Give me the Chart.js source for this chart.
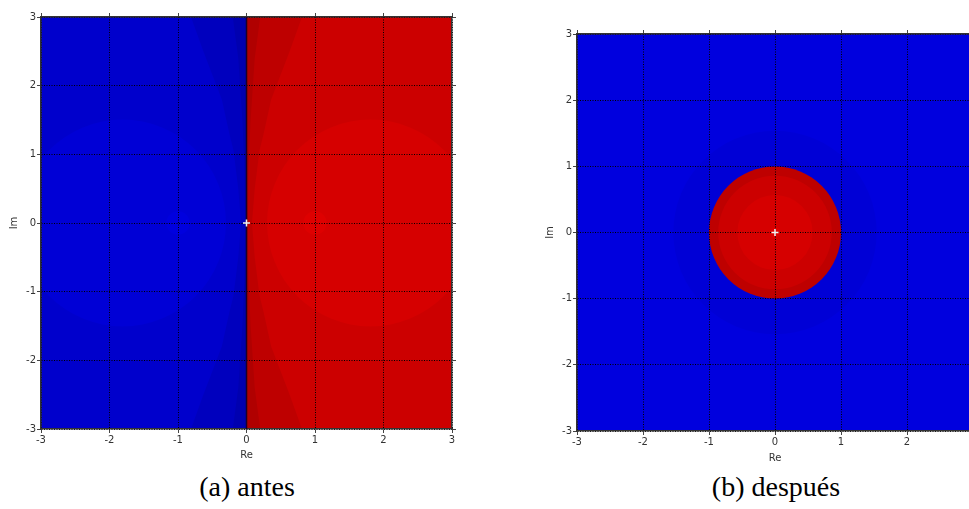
<!DOCTYPE html>
<html>
<head>
<meta charset="utf-8">
<script src="https://cdn.jsdelivr.net/npm/chart.js@4.4.0/dist/chart.umd.min.js"></script>
<style>
  html, body { margin: 0; padding: 0; background: #fff; }
  body { width: 969px; height: 509px; position: relative; overflow: hidden; }
  canvas { position: absolute; top: 0; }
  #antes { left: 0; }
  #despues { left: 540px; }
  .caption {
    position: absolute; top: 473px; width: 300px; text-align: center;
    font-family: "Liberation Serif", "DejaVu Serif", serif; font-size: 28px; line-height: 28px; color: #000;
  }
</style>
</head>
<body>
<canvas id="antes" width="480" height="465"></canvas>
<canvas id="despues" width="470" height="468"></canvas>
<div class="caption" style="left:97px">(a) antes</div>
<div class="caption" style="left:626px">(b) después</div>
<script>
// tick values on both axes (Re and Im)
const tickValues = [-3, -2, -1, 0, 1, 2, 3];

// (a) antes: levels of the two half planes (Re<0, Re>0)
const antesHalfLevels = [-3, 3];
// contour band next to the imaginary axis (upper half, mirrored below)
const antesBandY = [3, 2.5, 1.8, 1.3, 1.06, 0.5, 0];
const antesBandX = [0.81, 0.63, 0.36, 0.25, 0.19, 0.12, 0.08];
// darkest strip right at the axis
const antesStripY = [3, 2.4, 1.5, 0.8, 0];
const antesStripX = [0.2, 0.12, 0.06, 0.03, 0.02];
// round contours
const antesDiskCx = [-1.81, 1.81, -1, 1];
const antesDiskCy = [0, 0, 0, 0];
const antesDiskR = [1.51, 1.51, 0.17, 0.17];
const antesDiskLvl = [-4, 4, -5, 5];

// (b) después: background level and concentric contours round the origin
const despuesBaseLvl = -5;
const despuesDiskR = [1.54, 1.0, 0.86, 0.57, 0.08];
const despuesDiskLvl = [-4, 2, 3, 4, 5];

// marker at the origin
const markX = [0];
const markY = [0];

// colour for a contour level: negative -> blue, positive -> red
const shade = [0, 176, 190, 204, 214, 222, 230];
function levelColor(level) {
    const v = shade[Math.abs(level)];
    return level < 0 ? 'rgb(0,0,' + v + ')' : 'rgb(' + v + ',0,0)';
}

function bandPolygon(xs, ys, sign) {
    const pts = [{x: 0, y: ys[0]}];
    xs.forEach((x, i) => pts.push({x: sign * x, y: ys[i]}));
    for (let i = xs.length - 2; i >= 0; i--) pts.push({x: sign * xs[i], y: -ys[i]});
    pts.push({x: 0, y: -ys[0]});
    return pts;
}

// region list for (a)
const antesRegions = [
    {type: 'rect', x0: -3, x1: 0, y0: -3, y1: 3, level: antesHalfLevels[0]},
    {type: 'rect', x0: 0, x1: 3, y0: -3, y1: 3, level: antesHalfLevels[1]}
];
antesDiskCx.forEach((cx, i) => antesRegions.push({type: 'disk', cx: cx, cy: antesDiskCy[i], r: antesDiskR[i], level: antesDiskLvl[i]}));
antesRegions.push({type: 'poly', pts: bandPolygon(antesBandX, antesBandY, 1), level: 2});
antesRegions.push({type: 'poly', pts: bandPolygon(antesBandX, antesBandY, -1), level: -2});
antesRegions.push({type: 'poly', pts: bandPolygon(antesStripX, antesStripY, 1), level: 1});
antesRegions.push({type: 'poly', pts: bandPolygon(antesStripX, antesStripY, -1), level: -1});

// region list for (b)
const despuesRegions = [{type: 'rect', x0: -3, x1: 3, y0: -3, y1: 3, level: despuesBaseLvl}];
despuesDiskR.forEach((r, i) => despuesRegions.push({type: 'disk', cx: 0, cy: 0, r: r, level: despuesDiskLvl[i]}));

// paints the contour regions under the grid, through the chart scales
const regionsPlugin = {
    id: 'regions',
    beforeDraw(chart, args, opts) {
        const ctx = chart.ctx;
        const xs = chart.scales.x, ys = chart.scales.y;
        const a = chart.chartArea;
        ctx.save();
        ctx.beginPath();
        ctx.rect(a.left, a.top, a.right - a.left, a.bottom - a.top);
        ctx.clip();
        opts.items.forEach(reg => {
            ctx.fillStyle = levelColor(reg.level);
            ctx.beginPath();
            if (reg.type === 'rect') {
                const x0 = xs.getPixelForValue(reg.x0), x1 = xs.getPixelForValue(reg.x1);
                const y0 = ys.getPixelForValue(reg.y0), y1 = ys.getPixelForValue(reg.y1);
                ctx.rect(x0, y1, x1 - x0, y0 - y1);
            } else if (reg.type === 'disk') {
                const cx = xs.getPixelForValue(reg.cx), cy = ys.getPixelForValue(reg.cy);
                const r = xs.getPixelForValue(reg.cx + reg.r) - cx;
                ctx.arc(cx, cy, r, 0, Math.PI * 2);
            } else {
                reg.pts.forEach((p, i) => {
                    const px = xs.getPixelForValue(p.x), py = ys.getPixelForValue(p.y);
                    if (i === 0) ctx.moveTo(px, py); else ctx.lineTo(px, py);
                });
                ctx.closePath();
            }
            ctx.fill();
        });
        ctx.restore();
    }
};

function makeScales(box) {
    const common = {
        type: 'linear', min: -3, max: 3,
        afterBuildTicks: s => { s.ticks = tickValues.map(v => ({value: v})); },
        border: {display: true, color: '#333', width: 1.5, dash: [1, 1.5]},
        grid: {color: '#000', lineWidth: 1, tickLength: 4, tickColor: '#444', tickWidth: 1},
        ticks: {color: '#333', font: {size: 10}, padding: 1, maxRotation: 0}
    };
    const side = {
        type: 'linear', min: -3, max: 3,
        afterBuildTicks: s => { s.ticks = tickValues.map(v => ({value: v})); },
        border: {display: true, color: '#333', width: 1.5},
        grid: {drawOnChartArea: false, tickLength: 4, tickColor: '#444', tickWidth: 1},
        ticks: {display: false}
    };
    return {
        x: Object.assign({}, common, {
            position: 'bottom',
            title: {display: true, text: 'Re', color: '#333', font: {size: 10}, padding: {top: 0, bottom: 4}},
            afterFit: s => { s.height = box.bottom; }
        }),
        y: Object.assign({}, common, {
            position: 'left',
            title: {display: true, text: 'Im', color: '#333', font: {size: 10}, padding: {top: 4, bottom: 0}},
            afterFit: s => { s.width = box.left; }
        }),
        x2: Object.assign({}, side, {axis: 'x', position: 'top', afterFit: s => { s.height = box.top; }}),
        y2: Object.assign({}, side, {axis: 'y', position: 'right', afterFit: s => { s.width = box.right; }})
    };
}

function makeChart(id, regions, box, padLeft, withAxisLine) {
    // first dataset is drawn last, so the origin marker goes first
    const datasets = [{
        type: 'scatter',
        data: markX.map((x, i) => ({x: x, y: markY[i]})),
        pointStyle: 'cross', pointRadius: 3.5, borderColor: '#f2f2f2', borderWidth: 1.5
    }];
    if (withAxisLine) {
        datasets.push({
            type: 'line',
            data: [{x: 0, y: -3}, {x: 0, y: 3}],
            borderColor: '#1a0028', borderWidth: 1.5, pointRadius: 0
        });
    }
    return new Chart(document.getElementById(id), {
        type: 'scatter',
        data: {datasets: datasets},
        options: {
            responsive: false,
            animation: false,
            devicePixelRatio: 1,
            layout: {padding: {left: padLeft, top: 0, right: 0, bottom: 0}},
            plugins: {legend: {display: false}, tooltip: {enabled: false}, regions: {items: regions}},
            scales: makeScales(box)
        },
        plugins: [regionsPlugin]
    });
}

Chart.defaults.font.family = '"DejaVu Sans", sans-serif';

// plot area: (a) x 41..452, y 17..429 ; (b) x 577..973, y 34..431
makeChart('antes', antesRegions, {left: 37, top: 17, bottom: 36, right: 28}, 4, true);
makeChart('despues', despuesRegions, {left: 37, top: 34, bottom: 37, right: 37}, 0, false);
</script>
</body>
</html>
